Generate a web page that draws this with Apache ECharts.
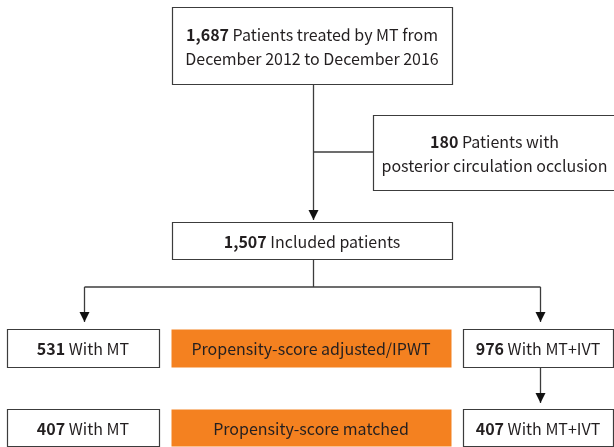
<!DOCTYPE html>
<html>
<head>
<meta charset="utf-8">
<script src="https://cdn.jsdelivr.net/npm/echarts@6/dist/echarts.min.js"></script>
<style>
html, body { margin: 0; padding: 0; background: #fff; }
#chart { width: 614px; height: 447px; }
</style>
</head>
<body>
<div id="chart"></div>
<script>
// patient counts (bold part) and captions of each box
var boxCounts = ['1,687', '180', '1,507', '531', '', '976', '407', '', '407'];
var boxCaptions = [
    [' Patients treated by MT from', 'December 2012 to December 2016'],
    [' Patients with', 'posterior circulation occlusion'],
    [' Included patients'],
    [' With MT'],
    ['Propensity-score adjusted/IPWT'],
    [' With MT+IVT'],
    [' With MT'],
    ['Propensity-score matched'],
    [' With MT+IVT']
];
var boxHighlight = [false, false, false, false, true, false, false, true, false];

// layout of the boxes, in page units [x0, y0, x1, y1]
var boxLayout = [
    [172, 7, 452, 84],
    [373, 115, 616, 190],
    [172, 222, 452, 259],
    [7, 329, 159, 367],
    [171, 329, 451, 367],
    [463, 329, 613, 367],
    [7, 409, 159, 446],
    [171, 409, 451, 446],
    [463, 409, 613, 446]
];
// connectors: points, and whether the last point gets an arrow head
var linkPoints = [
    [[313, 84], [313, 220]],
    [[313, 152], [373, 152]],
    [[313, 259], [313, 287]],
    [[84, 287], [540, 287]],
    [[84, 287], [84, 322]],
    [[540, 287], [540, 322]],
    [[540, 367], [540, 403]]
];
var linkArrow = [true, false, false, false, true, true, true];

var fontFamily = '"Noto Sans CJK KR", "Noto Sans", sans-serif';
var textColor = '#231f20';
var lineColor = '#3c3c3c';

var chart = echarts.init(document.getElementById('chart'));

function boxText(i) {
    var lines = boxCaptions[i];
    var out = [];
    for (var k = 0; k < lines.length; k++) {
        var s = '';
        if (k === 0 && boxCounts[i]) {
            s += '{b|' + boxCounts[i] + '}';
        }
        s += '{n|' + lines[k] + '}';
        out.push(s);
    }
    return out.join('\n');
}

function renderBox(params, api) {
    var i = api.value(0);
    var b = boxLayout[i];
    var p0 = api.coord([b[0], b[1]]);
    var p1 = api.coord([b[2], b[3]]);
    var hi = boxHighlight[i];
    return {
        type: 'group',
        children: [
            {
                type: 'rect',
                shape: {
                    x: Math.round(p0[0]) + 0.5,
                    y: Math.round(p0[1]) + 0.5,
                    width: Math.round(p1[0] - p0[0]),
                    height: Math.round(p1[1] - p0[1])
                },
                style: hi
                    ? { fill: '#f48120', stroke: null }
                    : { fill: '#fff', stroke: lineColor, lineWidth: 1.2 }
            },
            {
                type: 'text',
                x: (p0[0] + p1[0]) / 2,
                y: (p0[1] + p1[1]) / 2 + 1,
                style: {
                    text: boxText(i),
                    align: 'center',
                    verticalAlign: 'middle',
                    rich: {
                        b: { fontFamily: fontFamily, fontSize: 16, fontWeight: 'bold', fill: textColor, lineHeight: 24 },
                        n: { fontFamily: fontFamily, fontSize: 16, fill: textColor, lineHeight: 24 }
                    }
                }
            }
        ]
    };
}

function renderLink(params, api) {
    var i = api.value(0);
    var pts = linkPoints[i].map(function (p) {
        var c = api.coord(p);
        return [Math.round(c[0]) + 0.5, Math.round(c[1])];
    });
    var children = [{
        type: 'polyline',
        shape: { points: pts },
        style: { stroke: lineColor, lineWidth: 1.3, fill: null }
    }];
    if (linkArrow[i]) {
        var tip = pts[pts.length - 1];
        children.push({
            type: 'polygon',
            shape: { points: [[tip[0] - 5, tip[1] - 10], [tip[0] + 5, tip[1] - 10], [tip[0], tip[1]]] },
            style: { fill: '#111' }
        });
    }
    return { type: 'group', children: children };
}

chart.setOption({
    animation: false,
    grid: { left: 0, right: 0, top: 0, bottom: 0 },
    xAxis: { type: 'value', min: 0, max: 614, show: false },
    yAxis: { type: 'value', min: 0, max: 447, inverse: true, show: false },
    series: [
        {
            type: 'custom',
            silent: true,
            renderItem: renderLink,
            data: linkPoints.map(function (p, i) { return [i]; })
        },
        {
            type: 'custom',
            silent: true,
            renderItem: renderBox,
            data: boxLayout.map(function (b, i) { return [i]; })
        }
    ]
});
</script>
</body>
</html>
